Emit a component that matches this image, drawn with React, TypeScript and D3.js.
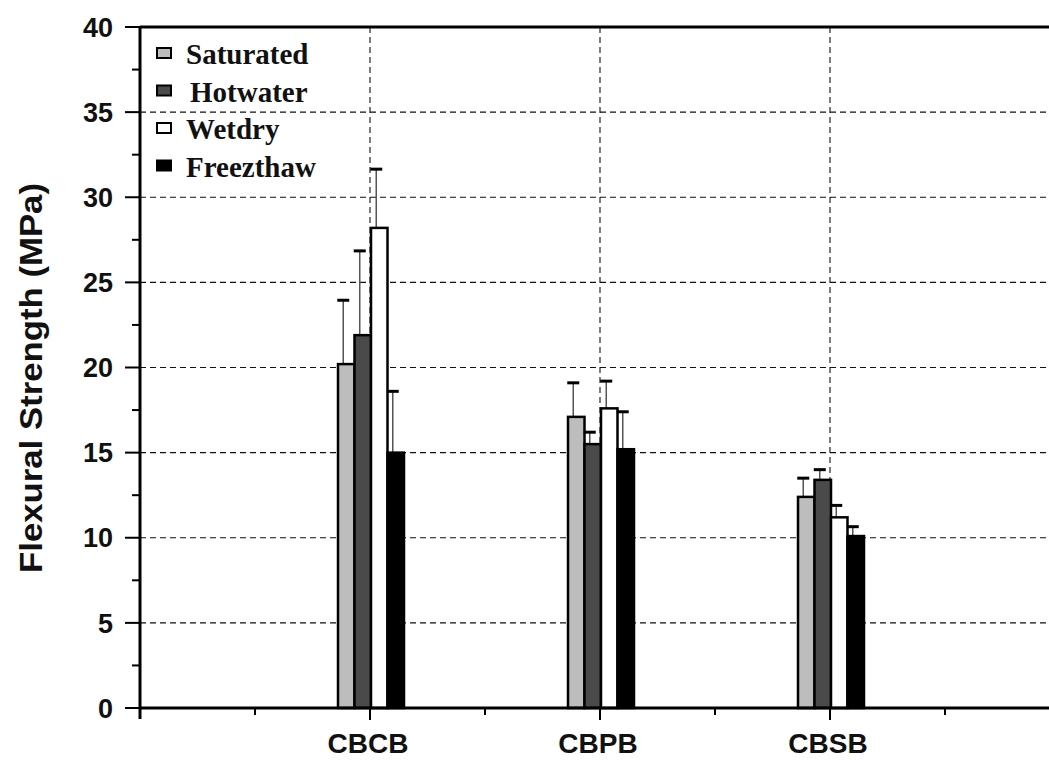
import React from "react";
import * as d3 from "d3";

const categories = ["CBCB", "CBPB", "CBSB"];
const seriesNames = ["Saturated", "Hotwater", "Wetdry", "Freezthaw"];
const seriesColors = ["#bdbdbd", "#4a4a4a", "#ffffff", "#000000"];
const saturated = [20.2, 17.1, 12.4];
const hotwater = [21.9, 15.5, 13.4];
const wetdry = [28.2, 17.6, 11.2];
const freezthaw = [15.0, 15.2, 10.1];
const saturatedErr = [3.75, 2.0, 1.1];
const hotwaterErr = [4.95, 0.7, 0.6];
const wetdryErr = [3.45, 1.6, 0.7];
const freezthawErr = [3.6, 2.2, 0.55];
const yTicks = [0, 5, 10, 15, 20, 25, 30, 35, 40];

const values = [saturated, hotwater, wetdry, freezthaw];
const errors = [saturatedErr, hotwaterErr, wetdryErr, freezthawErr];

export default function App() {
  const W = 1049, H = 760;
  const x = d3.scaleLinear().domain([0, 4]).range([140, 1060]);
  const y = d3.scaleLinear().domain([0, 40]).range([708, 27]);
  const barW = 16.5;
  const minorY = d3.range(2.5, 40, 5);
  const minorX = [0.5, 1.5, 2.5, 3.5];

  return (
    <svg width={W} height={H} style={{ position: "absolute", left: 0, top: 0, background: "#fff" }}>
      {/* horizontal gridlines */}
      {yTicks.filter(t => t > 0 && t < 40).map(t => (
        <line key={"gy" + t} x1={x(0)} x2={W} y1={y(t)} y2={y(t)} stroke="#111" strokeWidth={1.1} strokeDasharray="6,4" />
      ))}
      {/* vertical gridlines */}
      {categories.map((c, i) => (
        <line key={"gx" + c} x1={x(i + 1)} x2={x(i + 1)} y1={y(40)} y2={y(0)} stroke="#111" strokeWidth={1.1} strokeDasharray="6,4" />
      ))}
      {/* bars */}
      {categories.map((c, ci) => {
        const cx = x(ci + 1) + 1;
        return (
          <g key={c}>
            {values.map((vals, si) => {
              const x0 = cx + (si - 2) * barW;
              const v = vals[ci];
              const e = errors[si][ci];
              const lx = x0 + barW / 2 - 3;
              return (
                <g key={si}>
                  <line x1={lx} x2={lx} y1={y(v)} y2={y(v + e)} stroke="#555" strokeWidth={1.5} />
                  <line x1={lx - 6} x2={lx + 6} y1={y(v + e)} y2={y(v + e)} stroke="#000" strokeWidth={3} />
                  <rect x={x0} y={y(v)} width={barW} height={y(0) - y(v)} fill={seriesColors[si]} stroke="#000" strokeWidth={2.5} />
                </g>
              );
            })}
          </g>
        );
      })}
      {/* top frame line */}
      <line x1={x(0)} x2={W} y1={y(40)} y2={y(40)} stroke="#000" strokeWidth={3} />
      {/* y axis */}
      <line x1={x(0)} x2={x(0)} y1={y(40) - 1} y2={y(0) + 11} stroke="#000" strokeWidth={3} />
      {yTicks.map(t => (
        <g key={"yt" + t}>
          <line x1={x(0) - 15} x2={x(0)} y1={y(t)} y2={y(t)} stroke="#000" strokeWidth={2} />
          <text x={113} y={y(t)} dy="0.36em" textAnchor="end" fontFamily="'Liberation Sans', Arial, sans-serif" fontWeight="bold" fontSize={27} fill="#111">{t}</text>
        </g>
      ))}
      {minorY.map(t => (
        <line key={"ym" + t} x1={x(0) - 8} x2={x(0)} y1={y(t)} y2={y(t)} stroke="#000" strokeWidth={2} />
      ))}
      {/* x axis */}
      <line x1={x(0)} x2={W} y1={y(0)} y2={y(0)} stroke="#000" strokeWidth={3} />
      {categories.map((c, i) => (
        <g key={"xt" + c}>
          <line x1={x(i + 1)} x2={x(i + 1)} y1={y(0)} y2={y(0) + 12} stroke="#000" strokeWidth={2} />
          <text x={x(i + 1) - 2} y={753} textAnchor="middle" fontFamily="'Liberation Sans', Arial, sans-serif" fontWeight="bold" fontSize={28} fill="#111">{c}</text>
        </g>
      ))}
      {minorX.map(t => (
        <line key={"xm" + t} x1={x(t)} x2={x(t)} y1={y(0)} y2={y(0) + 7} stroke="#000" strokeWidth={2} />
      ))}
      {/* y title */}
      <text transform="translate(42,378) rotate(-90)" textAnchor="middle" fontFamily="'Liberation Sans', Arial, sans-serif" fontWeight="bold" fontSize={31} fill="#111" textLength={390} lengthAdjust="spacingAndGlyphs">Flexural Strength (MPa)</text>
      {/* legend */}
      {seriesNames.map((n, i) => {
        const base = 64 + i * 37.5;
        return (
          <g key={n}>
            <rect x={157} y={base - 16} width={14} height={10} fill={seriesColors[i]} stroke="#000" strokeWidth={2} />
            <text x={i === 1 ? 190 : 186} y={base} fontFamily="'Liberation Serif', 'Times New Roman', serif" fontWeight="bold" fontSize={29} fill="#111">{n}</text>
          </g>
        );
      })}
    </svg>
  );
}
